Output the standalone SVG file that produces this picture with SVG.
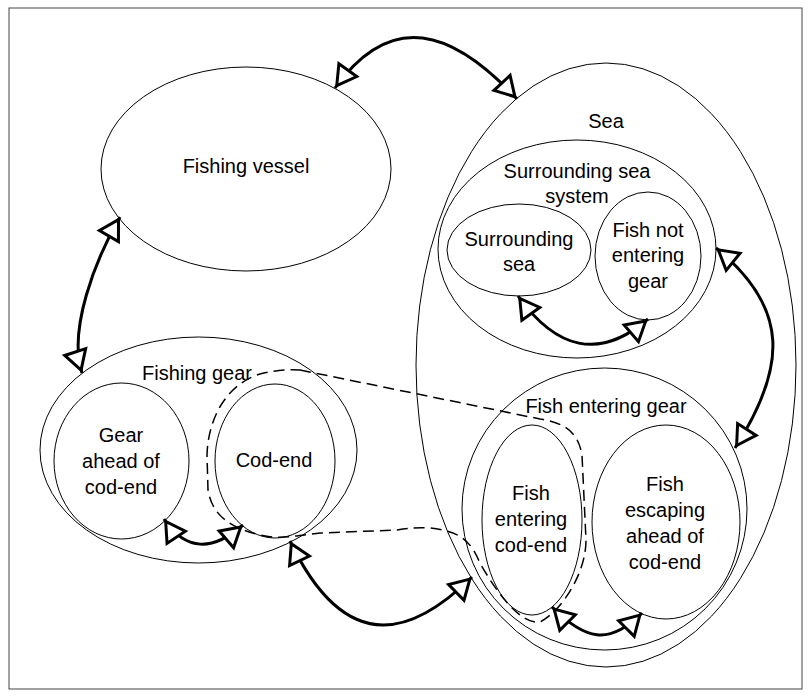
<svg xmlns="http://www.w3.org/2000/svg" width="811" height="697" viewBox="0 0 811 697">
<style>
.el{fill:none;stroke:#000;stroke-width:1}
.lbl{font-family:"Liberation Sans",Arial,sans-serif;font-size:20px;fill:#000;text-anchor:middle}
.arr{fill:none;stroke:#000;stroke-width:3;marker-start:url(#hd);marker-end:url(#hd)}
.dash{fill:none;stroke:#000;stroke-width:1.5;stroke-dasharray:11 6}
</style>
<defs>
<marker id="hd" markerUnits="userSpaceOnUse" orient="auto-start-reverse" markerWidth="28" markerHeight="28" refX="23" refY="11" overflow="visible">
<path d="M20,11 L1,0 L1,22 Z" fill="#fff" stroke="#000" stroke-width="3"/>
</marker>
</defs>
<rect x="9" y="8" width="793" height="681" fill="#fff" stroke="#444" stroke-width="1"/>

<g id="sea">
<ellipse class="el" cx="606" cy="365" rx="190" ry="302"/>
<text class="lbl" x="606" y="128">Sea</text>
</g>
<g id="fishing-vessel">
<ellipse class="el" cx="246" cy="169" rx="145" ry="102"/>
<text class="lbl" x="246" y="173">Fishing vessel</text>
</g>
<g id="surrounding-sea-system">
<ellipse class="el" cx="577" cy="249" rx="139" ry="109"/>
<text class="lbl" x="577" y="178">Surrounding sea</text>
<text class="lbl" x="577" y="203">system</text>
</g>
<g id="surrounding-sea">
<ellipse class="el" cx="519" cy="250" rx="72" ry="46"/>
<text class="lbl" x="519" y="246">Surrounding</text>
<text class="lbl" x="519" y="271">sea</text>
</g>
<g id="fish-not-entering-gear">
<ellipse class="el" cx="648" cy="256" rx="53" ry="64"/>
<text class="lbl" x="648" y="237">Fish not</text>
<text class="lbl" x="648" y="262">entering</text>
<text class="lbl" x="648" y="288">gear</text>
</g>
<g id="fishing-gear">
<ellipse class="el" cx="198.5" cy="450" rx="158.5" ry="113"/>
<text class="lbl" x="197" y="380">Fishing gear</text>
</g>
<g id="gear-ahead">
<ellipse class="el" cx="121.5" cy="461" rx="67.5" ry="78"/>
<text class="lbl" x="121" y="442">Gear</text>
<text class="lbl" x="121" y="468">ahead of</text>
<text class="lbl" x="121" y="494">cod-end</text>
</g>
<g id="cod-end">
<ellipse class="el" cx="275" cy="461" rx="60" ry="77"/>
<text class="lbl" x="274" y="467">Cod-end</text>
</g>
<g id="fish-entering-gear">
<ellipse class="el" cx="604.5" cy="509" rx="142.5" ry="141"/>
<text class="lbl" x="606" y="413">Fish entering gear</text>
</g>
<g id="fish-entering-cod-end">
<ellipse class="el" cx="532" cy="520" rx="50" ry="95"/>
<text class="lbl" x="531" y="500">Fish</text>
<text class="lbl" x="531" y="526">entering</text>
<text class="lbl" x="531" y="552">cod-end</text>
</g>
<g id="fish-escaping">
<ellipse class="el" cx="666" cy="522" rx="74" ry="97"/>
<text class="lbl" x="665" y="491">Fish</text>
<text class="lbl" x="665" y="517">escaping</text>
<text class="lbl" x="665" y="543">ahead of</text>
<text class="lbl" x="665" y="569">cod-end</text>
</g>

<g id="connectors">
<path class="dash" d="M300,370 L540,419 C565,423 578,432 582,455 L586,540 C586,575 560,612 540,622 C520,625 495,590 480,563 C472,545 465,535 443,530 C425,526 410,528 397,530 L320,533 C300,535 280,540 260,535 C230,528 212,515 208,490 L207,455 C208,420 225,385 260,374 C275,370 290,369 300,370 Z"/>
<path class="arr" d="M335,88 C391,10 452,29 517,99"/>
<path class="arr" d="M120,217 C95,260 68,330 82,373"/>
<path class="arr" d="M716,248 C790,308 787,367 735,448"/>
<path class="arr" d="M518,296 C556,349 599,361 648,319"/>
<path class="arr" d="M164,519 C186,552 213,551 243,525"/>
<path class="arr" d="M290,541 C349,664 418,630 472,577"/>
<path class="arr" d="M552,607 C585,640 609,646 642,613"/>
</g>
</svg>
